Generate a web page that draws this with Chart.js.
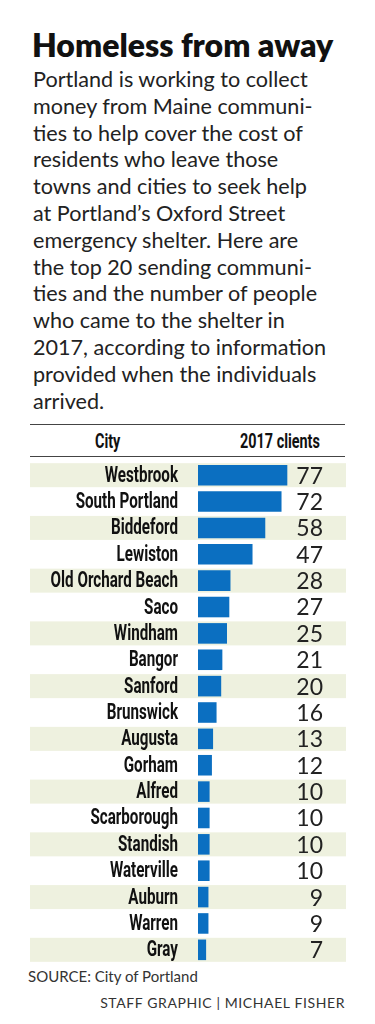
<!DOCTYPE html>
<html>
<head>
<meta charset="utf-8">
<script src="https://cdn.jsdelivr.net/npm/chart.js@4"></script>
<style>
  html, body { margin: 0; padding: 0; background: #fff; }
  body { width: 375px; height: 1024px; position: relative; font-family: 'Lato', 'Open Sans', sans-serif; color: #1a1a1a; }
  .abs { position: absolute; white-space: nowrap; }
  #title { left: 32px; top: 25px; font-size: 32px; font-weight: 800; line-height: 40px; color: #111; }
  #intro { left: 33px; top: 66px; font-size: 21.6px; line-height: 26.8px; color: #222; }
  .rule { position: absolute; left: 30px; width: 315px; height: 0; border-top: 1.5px solid #444; }
  .head { font-family: 'Roboto', sans-serif; font-weight: 700; font-size: 20px; line-height: 24px; color: #111; top: 429px; transform: scaleX(0.72); transform-origin: 0 0; }
  #chartBox { position: absolute; left: 30px; top: 462px; width: 316px; height: 501px; }
  #source { left: 28px; top: 967px; font-size: 15px; color: #333; }
  #credit { right: 30px; top: 994px; font-size: 14px; letter-spacing: 0.6px; color: #333; }
</style>
</head>
<body>
<div class="abs" id="title">Homeless from away</div>
<div class="abs" id="intro">Portland is working to collect<br>money from Maine communi-<br>ties to help cover the cost of<br>residents who leave those<br>towns and cities to seek help<br>at Portland’s Oxford Street<br>emergency shelter. Here are<br>the top 20 sending communi-<br>ties and the number of people<br>who came to the shelter in<br>2017, according to information<br>provided when the individuals<br>arrived.</div>

<div class="rule" style="top:424px"></div>
<div class="abs head" style="left:95px">City</div>
<div class="abs head" style="left:240px">2017 clients</div>
<div class="rule" style="top:456px"></div>

<div id="chartBox"><canvas id="chart"></canvas></div>

<div class="abs" id="source">SOURCE: City of Portland</div>
<div class="abs" id="credit">STAFF GRAPHIC | MICHAEL FISHER</div>

<script>
'use strict';

// ----- data -----
const cities = [
  'Westbrook', 'South Portland', 'Biddeford', 'Lewiston', 'Old Orchard Beach',
  'Saco', 'Windham', 'Bangor', 'Sanford', 'Brunswick', 'Augusta', 'Gorham',
  'Alfred', 'Scarborough', 'Standish', 'Waterville', 'Auburn', 'Warren', 'Gray'
];
const clients = [77, 72, 58, 47, 28, 27, 25, 21, 20, 16, 13, 12, 10, 10, 10, 10, 9, 9, 7];

// alternating row bands
const bandPlugin = {
  id: 'bands',
  beforeDatasetsDraw(chart) {
    const { ctx } = chart;
    const y = chart.scales.y;
    ctx.save();
    ctx.fillStyle = '#eef1df';
    cities.forEach((c, i) => {
      if (i % 2 === 0) {
        const py = y.getPixelForValue(i);
        ctx.fillRect(0, py - 12, chart.width, 24);
      }
    });
    ctx.restore();
  }
};

// city names (condensed) and numbers at the right
const textPlugin = {
  id: 'texts',
  afterDatasetsDraw(chart) {
    const { ctx } = chart;
    const y = chart.scales.y;
    ctx.save();
    ctx.textBaseline = 'middle';
    ctx.textAlign = 'right';
    ctx.fillStyle = '#111';
    ctx.font = "bold 22px 'Roboto', sans-serif";
    cities.forEach((c, i) => {
      ctx.save();
      ctx.translate(y.right - 20, y.getPixelForValue(i) + 1);
      ctx.scale(0.69, 1);
      ctx.fillText(c, 0, 0);
      ctx.restore();
    });
    ctx.font = "400 23px 'Lato', 'Open Sans', sans-serif";
    ctx.fillStyle = '#222';
    clients.forEach((v, i) => {
      ctx.fillText(String(v), 293, y.getPixelForValue(i) + 1);
    });
    ctx.restore();
  }
};

new Chart(document.getElementById('chart'), {
  type: 'bar',
  data: {
    labels: cities,
    datasets: [{
      data: clients,
      backgroundColor: '#0b6fc1',
      barPercentage: 0.78,
      categoryPercentage: 1,
    }]
  },
  plugins: [bandPlugin, textPlugin],
  options: {
    indexAxis: 'y',
    responsive: true,
    maintainAspectRatio: false,
    animation: false,
    layout: { padding: { top: 0, bottom: 0, left: 0, right: 32 } },
    plugins: {
      legend: { display: false },
      tooltip: { enabled: false }
    },
    scales: {
      x: { display: false, min: 0, max: 100 },
      y: {
        grid: { display: false, drawTicks: false },
        border: { display: false },
        ticks: { display: false },
        afterFit: s => {
          s.width = 168;
          s.paddingTop = 0;
          s.paddingBottom = 0;
        }
      }
    }
  }
});
</script>
</body>
</html>
